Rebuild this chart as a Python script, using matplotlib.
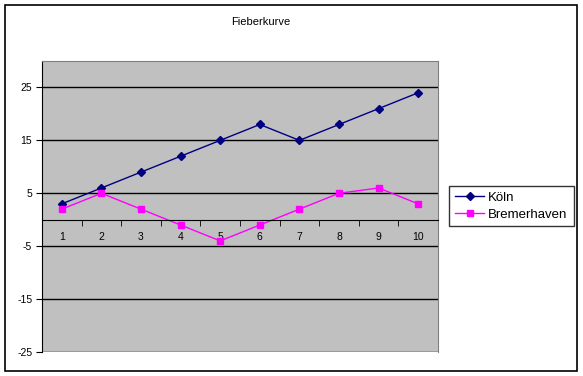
import matplotlib.pyplot as plt
from matplotlib.patches import Rectangle

plt.rcParams['font.family'] = ['Liberation Sans', 'DejaVu Sans']
plt.rcParams['axes.unicode_minus'] = False

days = list(range(1, 11))
koeln = [3, 6, 9, 12, 15, 18, 15, 18, 21, 24]
bremerhaven = [2, 5, 2, -1, -4, -1, 2, 5, 6, 3]
y_ticks = [-25, -15, -5, 5, 15, 25]

W, H = 583, 376
fig = plt.figure(figsize=(W / 100, H / 100), dpi=100)

# outer chart frame
fig.patches.append(Rectangle((5 / W, 1 - 371 / H), 572 / W, 366 / H,
                             transform=fig.transFigure, fill=False,
                             edgecolor='black', linewidth=1.2))

ax = fig.add_axes([42 / W, 1 - 352 / H, 396 / W, 291 / H])
ax.set_facecolor('#C0C0C0')

ax.plot(days, koeln, color='#000080', marker='D', markersize=4,
        linewidth=1, label='Köln')
ax.plot(days, bremerhaven, color='#FF00FF', marker='s', markersize=5,
        linewidth=1, label='Bremerhaven')

ax.set_xlim(0.5, 10.5)
ax.set_ylim(-25, 30)
ax.set_yticks(y_ticks)
ax.yaxis.grid(True, color='black', linewidth=1)
ax.set_axisbelow(True)
ax.tick_params(axis='y', labelsize=7.5, length=4, direction='out', pad=3)

ax.set_xticks(days)
ax.set_xticks([d + 0.5 for d in days], minor=True)
ax.tick_params(axis='x', which='major', length=0, labelsize=7.5, pad=9)
ax.tick_params(axis='x', which='minor', length=4, direction='out')

ax.spines['bottom'].set_position(('data', 0))
ax.spines['bottom'].set_color('black')
ax.spines['left'].set_color('black')
ax.spines['top'].set_color('#808080')
ax.spines['right'].set_color('#808080')

fig.text(261 / W, 1 - 22 / H, 'Fieberkurve', ha='center', va='center',
         fontsize=8)

leg = fig.legend(loc='center', bbox_to_anchor=(511.5 / W, 1 - 206 / H),
                 fontsize=9.5, frameon=True, fancybox=False, handlelength=2.2,
                 borderpad=0.45, labelspacing=0.35, handletextpad=0.3,
                 borderaxespad=0)
leg.get_frame().set_edgecolor('black')
leg.get_frame().set_linewidth(1)

fig.savefig('out.png', dpi=100)
